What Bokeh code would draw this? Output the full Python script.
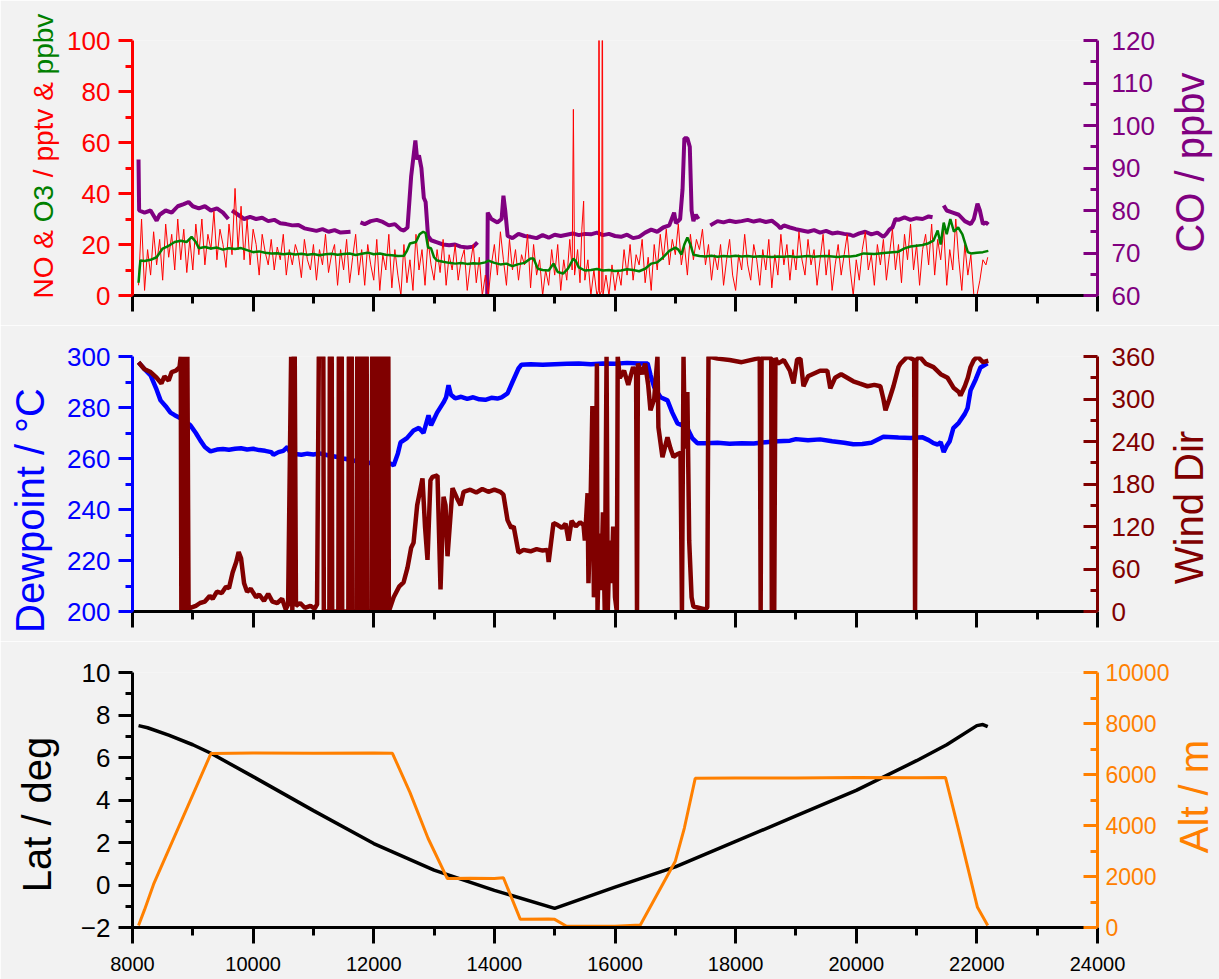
import math
import numpy as np
from bokeh.plotting import figure
from bokeh.models import (Range1d, LinearAxis, FixedTicker, Label, CustomLabelingPolicy)
from bokeh.layouts import column
from bokeh.embed import file_html
from bokeh.resources import INLINE

# ---------------- data ----------------
x_major = [8000, 10000, 12000, 14000, 16000, 18000, 20000, 22000, 24000]
x_minor = [9000, 11000, 13000, 15000, 17000, 19000, 21000, 23000]

no_pts = [
(8100,4),(8150,30),(8200,2),(8250,18),(8300,8),(8350,25),(8400,12),(8450,22),(8500,6),(8550,28),(8600,15),(8650,24),
(8700,10),(8750,30),(8800,14),(8850,26),(8900,9),(8950,22),(9000,10),(9050,28),(9100,16),(9150,30),(9200,12),(9250,24),
(9300,18),(9350,33),(9400,14),(9450,26),(9500,20),(9550,11),(9600,28),(9650,16),(9700,42),(9750,18),(9800,35),(9850,14),
(9900,30),(9950,12),(10000,26),(10050,20),(10100,8),(10150,24),(10200,17),(10250,12),(10300,22),(10350,10),(10400,19),
(10450,14),(10500,24),(10550,8),(10600,18),(10650,12),(10700,20),(10750,16),(10800,7),(10850,22),(10900,14),(10950,10),
(11000,20),(11050,6),(11100,18),(11150,12),(11200,24),(11250,9),(11300,16),(11350,20),(11400,4),(11450,18),(11500,10),
(11550,22),(11600,5),(11650,15),(11700,24),(11750,8),(11800,18),(11850,4),(11900,20),(11950,12),(12000,6),(12050,22),
(12100,2),(12150,16),(12200,10),(12250,24),(12300,3),(12350,18),(12400,8),(12450,0),(12500,20),(12550,5),(12600,14),
(12650,2),(12700,24),(12750,10),(12800,18),(12850,4),(12900,22),(12950,12),(13000,6),(13050,18),(13100,9),(13150,22),
(13200,4),(13250,16),(13300,10),(13350,20),(13400,6),(13450,14),(13500,18),(13550,2),(13600,12),(13650,20),(13700,5),
(13750,15),(13800,0),(13850,8),(13900,0),(13950,12),(14000,20),(14050,8),(14100,25),(14150,14),(14200,4),(14250,22),
(14300,10),(14350,18),(14400,6),(14450,16),(14500,12),(14550,24),(14600,3),(14650,20),(14700,8),(14750,14),(14800,0),
(14850,10),(14900,4),(14950,18),(15000,8),(15050,20),(15100,2),(15150,14),(15200,6),(15250,22),(15290,10),(15310,73),
(15330,8),(15380,18),(15420,5),(15450,26),(15480,37),(15500,6),(15550,14),(15600,0),(15650,10),(15700,0),(15725,2),
(15735,150),(15745,0),(15780,2),(15790,150),(15800,0),(15850,8),(15900,0),(15950,12),(16000,2),(16050,10),(16100,4),
(16150,18),(16200,8),(16250,20),(16300,6),(16350,16),(16400,12),(16450,22),(16500,5),(16550,15),(16600,2),(16650,20),
(16700,10),(16750,24),(16800,14),(16850,26),(16900,12),(16950,22),(17000,16),(17050,28),(17100,12),(17150,20),(17200,8),
(17250,24),(17300,14),(17350,22),(17400,18),(17450,26),(17500,12),(17550,20),(17600,6),(17650,16),(17700,10),(17750,20),
(17800,4),(17850,14),(17900,22),(17950,8),(18000,2),(18050,16),(18100,10),(18150,24),(18200,12),(18250,6),(18300,20),
(18350,14),(18400,4),(18450,18),(18500,10),(18550,22),(18600,3),(18650,16),(18700,8),(18750,24),(18800,12),(18850,20),
(18900,6),(18950,18),(19000,10),(19050,25),(19100,14),(19150,8),(19200,22),(19250,12),(19300,18),(19350,4),(19400,14),
(19450,24),(19500,8),(19550,18),(19600,2),(19650,12),(19700,20),(19750,8),(19800,16),(19850,24),(19900,10),(19950,0),
(20000,14),(20050,6),(20100,18),(20150,25),(20200,10),(20250,16),(20300,4),(20350,20),(20400,12),(20450,22),(20500,6),
(20550,16),(20600,26),(20650,10),(20700,20),(20750,5),(20800,24),(20850,14),(20900,28),(20950,10),(21000,20),(21050,4),
(21100,18),(21150,24),(21200,12),(21250,28),(21300,8),(21350,22),(21400,14),(21450,26),(21500,4),(21550,18),(21600,10),
(21650,30),(21700,14),(21750,2),(21800,20),(21850,8),(21900,16),(21950,0),(22000,0),(22050,6),(22100,14),(22150,12),(22180,15)]

o3_pts = [
(8100,5),(8130,13.7),(8200,13.5),(8300,14),(8400,15),(8500,18.4),(8600,19.5),(8700,21),(8800,21.5),(8900,21),(8980,23),
(9050,21),(9100,18.5),(9200,19),(9300,18.4),(9400,18.8),(9500,18),(9600,18.5),(9700,18.2),(9800,18.6),(9900,17.8),
(10000,17),(10100,17.3),(10200,16.8),(10300,16.5),(10400,16.6),(10500,16.2),(10600,16.5),(10700,16.1),(10800,16.4),
(10900,16),(11000,16.3),(11100,15.8),(11200,16.2),(11300,16.4),(11400,16),(11500,16.3),(11600,16.5),(11700,15.9),
(11800,16.4),(11900,16.8),(12000,16.2),(12100,16.5),(12200,16),(12300,15.8),(12400,15.5),(12500,15.6),(12550,17.5),
(12600,20.4),(12700,21),(12760,24),(12820,25),(12860,24.5),(12900,18.8),(12950,18.5),(13000,15),(13050,13.7),
(13150,13.2),(13250,12.8),(13350,12.5),(13450,12.7),(13550,12.4),(13650,12.6),(13750,12.5),(13850,13),(13900,13.7),
(14000,12.8),(14100,12.2),(14200,12.5),(14300,11.5),(14400,12.3),(14500,12.8),(14600,14.5),(14650,14.5),(14720,10.5),
(14800,10),(14900,9.8),(14980,12.5),(15050,9.2),(15140,8.6),(15220,10.5),(15310,14.5),(15350,13.5),(15400,11),
(15500,9.8),(15600,10),(15700,10.4),(15800,9.8),(15900,10),(16000,9.6),(16100,9.8),(16200,10.3),(16300,10),(16400,9.5),
(16500,10.5),(16600,12.5),(16700,13),(16800,15),(16900,17.5),(17000,18.8),(17050,18),(17100,16),(17150,20),(17200,22.7),
(17250,20),(17300,16),(17400,15.5),(17500,15.3),(17600,15.6),(17700,15.2),(17800,15.5),(17900,15.3),(18000,15.6),
(18100,15.3),(18200,15.5),(18300,15.2),(18400,15.4),(18500,15.3),(18600,15.1),(18700,15.3),(18800,15.2),(18900,15.4),
(19000,15.1),(19100,15.3),(19200,15.5),(19300,15.2),(19400,15.4),(19500,15.5),(19600,15.3),(19700,15.1),(19800,15.4),
(19900,15.3),(20000,15.6),(20120,16.5),(20300,16.3),(20500,16.8),(20700,17.2),(20800,18.5),(20900,19.2),(21000,19.5),
(21100,19.8),(21200,20.5),(21280,21.5),(21350,25.5),(21400,20),(21450,28.6),(21500,24),(21560,30),(21620,25),
(21690,26.7),(21760,24),(21850,17),(21900,16.5),(22000,16.8),(22100,17),(22190,17.5)]

nan = float("nan")
co_pts = [
(8100,92),(8110,80),(8200,79.5),(8300,80),(8400,77.6),(8450,79),(8550,80),(8650,79.5),(8750,81),(8850,81.5),(8930,82),
(9000,81),(9100,80.5),(9200,81),(9300,80),(9400,80.5),(9500,79.5),(9590,78),(9620,nan),(9650,80),(9750,79),(9850,78),
(9950,78.5),(10050,78),(10150,78.3),(10250,77.5),(10350,77.8),(10450,77),(10550,76.8),(10650,76.5),(10750,76.6),
(10850,75.8),(10950,75.5),(11050,75.2),(11150,75.6),(11250,75),(11350,75.4),(11450,74.8),(11615,75),(11700,nan),
(11780,77.2),(11850,76.8),(11950,77.5),(12050,77.8),(12150,77.3),(12250,76.5),(12350,76.8),(12450,75.5),(12500,75.3),
(12560,76),(12620,88),(12690,96.5),(12720,92),(12750,93),(12790,90),(12830,83),(12860,82),(12900,74),(12950,73),
(13050,72.5),(13150,72),(13250,71.8),(13350,72),(13440,71.5),(13550,71.3),(13650,71.5),(13720,72.5),(13800,nan),
(13880,58),(13890,79.5),(13950,78),(14050,77.2),(14120,78),(14150,83.5),(14180,80),(14220,74),(14300,73.5),(14400,74.5),
(14500,74),(14600,73.8),(14700,73.5),(14800,74.2),(14900,73.6),(15000,74.3),(15100,74),(15200,74.3),(15300,74.6),
(15400,74.2),(15500,74.5),(15600,74.4),(15700,74.8),(15800,74.2),(15900,74.5),(16000,74),(16100,73.8),(16200,74.3),
(16300,73.5),(16400,73.8),(16500,74.8),(16600,75.5),(16700,75),(16800,76),(16900,76.5),(16980,79.5),(17010,77),
(17080,78),(17120,85),(17150,97),(17200,97),(17240,95),(17270,80),(17300,77.5),(17340,79),(17385,78),(17480,nan),
(17580,76.5),(17700,77.5),(17800,77.2),(17900,77.6),(18000,77.3),(18100,77.5),(18200,77.8),(18300,77.4),(18400,77.7),
(18500,77.3),(18600,77.6),(18700,76.5),(18745,75.8),(18800,76.5),(18900,76),(19000,75.6),(19100,75.3),(19200,75),
(19300,75.4),(19400,74.8),(19500,75.2),(19600,74.6),(19700,74.8),(19800,74.5),(19900,74.3),(19950,74),(20050,74.6),
(20150,75),(20250,74.4),(20350,74.8),(20450,73.8),(20500,74.5),(20550,75.5),(20600,76),(20650,78),(20700,77.8),
(20800,78.4),(20900,77.8),(21000,78.2),(21100,78),(21200,78.6),(21265,78.4),(21350,nan),(21450,81.2),(21500,80),
(21600,79.5),(21700,79),(21800,77.5),(21900,76.8),(21950,78),(22010,81.6),(22050,80),(22100,76.8),(22150,77.2),(22190,76.7)]

dew_pts = [
(8100,297.7),(8200,295),(8300,292.6),(8400,287),(8465,282.8),(8550,280.5),(8630,278),(8700,277),(8796,275.8),(8880,274.5),
(8960,273),(9050,270),(9127,267),(9200,264.5),(9293,262.8),(9400,263.5),(9500,263.7),(9600,263.4),(9700,263.8),
(9800,264),(9900,263.5),(10000,263.8),(10100,263.3),(10200,263),(10300,262.5),(10338,261.5),(10420,262.5),(10500,263),
(10570,264.5),(10620,262),(10700,261.8),(10800,261.5),(10900,261.9),(11000,261.6),(11100,262),(11200,261.5),(11300,261),
(11400,260.6),(11500,260),(11600,259.5),(11700,259),(11830,258),(11950,258.3),(12100,257.9),(12200,258.2),(12278,258),
(12330,257.3),(12400,262),(12444,266.3),(12550,268),(12660,271),(12750,272),(12825,270),(12908,276.9),(12950,273),
(13050,278),(13157,282),(13200,284),(13240,288.7),(13280,285),(13350,283.6),(13450,284.2),(13550,283.4),(13650,284),
(13750,283.2),(13850,283),(13950,283.8),(14050,283.5),(14120,284),(14218,285.5),(14300,290),(14400,295.3),(14450,296.8),
(14600,297),(14800,296.8),(15000,297),(15200,297.2),(15400,297.3),(15600,297),(15800,297.3),(16000,297.2),(16200,297.5),
(16400,297.3),(16540,297.3),(16590,292.6),(16650,288),(16755,284),(16870,282.8),(16950,278),(17035,273.8),(17120,273),
(17200,271.9),(17280,268),(17365,266),(17500,266),(17700,266.2),(17900,265.8),(18100,266),(18300,265.9),(18500,266.4),
(18700,266.8),(18900,267),(19000,267.6),(19200,267.2),(19400,267.5),(19600,266.8),(19800,266.2),(19950,265.6),
(20100,265.7),(20250,266.2),(20450,268.5),(20700,268.2),(20900,268),(21100,268.3),(21200,267.2),(21280,266),
(21350,265.5),(21400,266.4),(21450,262.5),(21500,265),(21550,266.8),(21610,271.9),(21700,274),(21800,277.5),
(21845,279.7),(21895,286.7),(21980,291),(22060,295.7),(22176,297.3)]

wind_pts = [
(8100,352),(8200,342),(8300,338),(8400,330),(8480,322),(8530,332),(8600,326),(8650,338),(8720,340),(8780,345),
(8800,360),(8810,0),(8830,360),(8850,0),(8870,360),(8890,0),(8910,360),(8930,0),(8960,5),(9050,8),(9120,12),(9200,14),
(9280,22),(9330,18),(9400,28),(9480,26),(9550,35),(9600,33),(9660,55),(9720,70),(9760,84),(9800,75),(9850,40),(9900,28),
(9960,32),(10050,20),(10100,24),(10180,15),(10250,25),(10320,14),(10400,12),(10480,18),(10540,3),(10580,10),(10630,360),
(10650,0),(10670,360),(10690,360),(10710,8),(10780,12),(10860,5),(10950,8),(11020,4),(11060,10),
(11089,360),(11164,360),(11172,0),(11264,0),(11272,360),(11303,360),(11311,0),(11413,0),(11421,360),(11469,360),
(11477,0),(11579,0),(11587,360),(11635,360),(11643,0),(11718,0),(11726,360),(11772,360),(11780,0),(11828,0),
(11836,360),(11883,360),(11891,0),(11966,0),(11974,360),(12021,360),(12029,0),(12076,0),(12084,360),(12132,360),
(12140,0),(12187,0),(12195,360),(12242,360),(12250,0),(12330,20),(12420,35),(12494,41),(12560,62),
(12620,90),(12660,97),(12720,150),(12808,188),(12850,120),(12891,73),(12940,185),(12974,190),(13057,192),(13107,31),
(13157,162),(13190,150),(13223,78),(13306,174),(13380,160),(13440,150),(13490,169),(13600,172),(13700,168),(13800,173),
(13900,169),(14000,172),(14100,169),(14150,165),(14218,129),(14280,118),(14320,120),(14400,83),(14483,87),(14600,85),
(14700,88),(14800,86),(14880,87),(14900,70),(14980,125),(15050,122),(15120,118),(15180,124),(15230,100),(15280,128),
(15350,120),(15420,126),(15478,122),(15500,100),(15545,167),(15560,40),(15590,130),(15625,290),(15650,20),(15680,120),
(15700,350),(15710,0),(15740,110),(15770,30),(15800,140),(15830,0),(15860,360),(15880,0),(15910,100),(15940,40),
(15970,120),(16000,20),(16030,0),(16045,360),(16080,330),(16150,340),(16220,320),(16300,345),(16350,335),(16365,0),
(16380,350),(16450,335),(16500,350),(16550,320),(16588,284),(16650,300),(16704,360),(16720,260),(16787,218),
(16870,246),(16920,230),(16970,218),(17030,222),(17086,224),(17110,0),(17136,360),(17160,230),(17200,310),(17230,100),
(17270,20),(17300,7),(17400,5),(17500,3),(17530,6),(17550,360),(17700,357),(17900,355),(18100,352),(18300,356),
(18400,358),(18415,0),(18430,358),(18590,358),(18600,0),(18615,358),(18640,0),(18660,358),(18700,350),(18800,355),
(18900,340),(18960,322),(19020,356),(19075,357),(19125,318),(19200,332),(19300,336),(19400,340),(19520,340),(19570,315),
(19650,330),(19750,335),(19850,330),(19950,325),(20050,322),(20186,318),(20300,320),(20400,318),(20450,300),(20485,284),
(20550,300),(20617,318),(20700,345),(20733,350),(20850,360),(20960,355),(20975,0),(20995,355),(21050,360),(21150,350),
(21281,345),(21400,335),(21513,330),(21612,316),(21700,310),(21728,305),(21800,318),(21850,330),(21894,345),(21950,355),
(22010,360),(22100,352),(22190,354)]

lat_pts = [
(8100,7.5),(8250,7.4),(8600,7.05),(9000,6.6),(9300,6.2),(10000,5.1),(11000,3.5),(12000,1.95),(13000,0.7),(14000,-0.25),
(15000,-1.1),(16000,-0.1),(17000,0.85),(18000,2.05),(19000,3.25),(20000,4.45),(21000,5.85),(21500,6.6),(22000,7.5),
(22100,7.55),(22180,7.45)]

alt_pts = [
(8100,80),(8200,700),(8350,1700),(9300,6820),(10000,6840),(11000,6830),(12000,6840),(12310,6830),(12600,5300),
(12900,3500),(13220,1920),(13600,1930),(14000,1920),(14150,1950),(14430,320),(14900,330),(15000,320),(15190,60),
(16000,50),(16420,100),(17000,2600),(17150,3900),(17330,5850),(18000,5860),(19000,5860),(20000,5880),(21000,5870),
(21480,5880),(21700,3800),(22010,790),(22180,80)]

# ---------------- styling helpers ----------------
BG = "#f2f2f2"
FONT = "Liberation Sans"
FRAME_W = 965.0

x_range = Range1d(8000, 24000)
HIDE_ALL = "for (const i of indices) { indices.unset(i) }\nreturn indices"


def unzip(pts):
    return (np.array([p[0] for p in pts], dtype=float), np.array([p[1] for p in pts], dtype=float))


def px_to_x(px):
    # page pixel -> x data (frame spans 132..1097 px)
    return 8000 + (px - 132) * 16000 / FRAME_W


def style_yaxis(ax, color, side, major, minor, size="26px", standoff=None):
    ax.ticker = FixedTicker(ticks=major, minor_ticks=minor)
    ax.axis_line_color = color
    ax.axis_line_width = 3
    ax.major_tick_line_color = color
    ax.minor_tick_line_color = color
    ax.major_tick_line_width = 3
    ax.minor_tick_line_width = 3
    ax.major_label_text_color = color
    ax.major_label_text_font = FONT
    ax.major_label_text_font_size = size
    if side == "left":
        ax.major_tick_out, ax.major_tick_in = 14, 0
        ax.minor_tick_out, ax.minor_tick_in = 7, 0
        ax.major_label_standoff = 8 if standoff is None else standoff
    else:
        ax.major_tick_out, ax.major_tick_in = 0, 14
        ax.minor_tick_out, ax.minor_tick_in = 0, 7
        ax.major_label_standoff = 14 if standoff is None else standoff


def make_fig(height, top, bottom, y0, y1, show_xlabels):
    p = figure(width=1219, height=height, x_range=x_range, y_range=Range1d(y0, y1),
               output_backend="svg", toolbar_location=None,
               min_border_left=132, min_border_right=122,
               min_border_top=top, min_border_bottom=bottom,
               background_fill_color=BG, border_fill_color=BG, outline_line_color=None)
    p.xgrid.visible = False
    p.ygrid.visible = False
    xa = p.xaxis[0]
    xa.ticker = FixedTicker(ticks=x_major, minor_ticks=x_minor)
    xa.axis_line_color = "black"
    xa.axis_line_width = 3
    xa.major_tick_line_color = "black"
    xa.minor_tick_line_color = "black"
    xa.major_tick_line_width = 3
    xa.minor_tick_line_width = 3
    xa.major_tick_out, xa.major_tick_in = 16, 0
    xa.minor_tick_out, xa.minor_tick_in = 8, 0
    xa.major_label_text_font = FONT
    xa.major_label_text_color = "black"
    if show_xlabels:
        xa.major_label_text_font_size = "20px"
        xa.major_label_standoff = 13
    else:
        xa.major_label_text_font_size = "1px"
        xa.major_label_standoff = 0
        xa.major_label_policy = CustomLabelingPolicy(code=HIDE_ALL)
    return p


def title(p, side, text, base_px, y, color, fs=40, align="center"):
    # base_px: page x of the text baseline; Bokeh anchors rotated text at the box middle
    x = px_to_x(base_px - 0.33 * fs)
    p.add_layout(Label(x=x, y=y, text=text,
                       angle=math.pi / 2, text_align=align, text_baseline="middle",
                       text_font=FONT, text_font_size=f"{fs}px", text_color=color), side)


# ---------------- panel 1: NO, O3, CO ----------------
RED, GREEN, PURPLE = "#ff0000", "#008000", "#800080"
p1 = make_fig(325, 40, 30, 0, 100, False)
p1.extra_y_ranges = {"co": Range1d(60, 120)}
style_yaxis(p1.yaxis[0], RED, "left", [0, 20, 40, 60, 80, 100], [10, 30, 50, 70, 90])
ax_co = LinearAxis(y_range_name="co")
style_yaxis(ax_co, PURPLE, "right", [60, 70, 80, 90, 100, 110, 120], [65, 75, 85, 95, 105, 115])
p1.add_layout(ax_co, "right")

cx, cy = unzip(co_pts)
p1.line(cx, cy, y_range_name="co", line_color=PURPLE, line_width=4)
nx, ny = unzip(no_pts)
p1.line(nx, ny, line_color=RED, line_width=1)
ox, oy = unzip(o3_pts)
p1.line(ox, oy, line_color=GREEN, line_width=2.5)

# two-coloured left title "NO & O3 / pptv & ppbv":
# red runs with a same-width blank (en space + space + figure space) where "O3" goes,
# green runs placed by their em offsets along the text
fs = 28
PX_PER_UNIT_1 = 255 / 100.0
y_start = 295 - 298  # px above frame bottom where the text starts
title(p1, "left", "NO & \u2002 \u2007 / pptv &", 52, y_start / PX_PER_UNIT_1, RED, fs=fs, align="left")
title(p1, "above", "O3", 52, (y_start + 2.723 * fs) / PX_PER_UNIT_1, GREEN, fs=fs, align="left")
title(p1, "left", "ppbv", 52, (y_start + 8.004 * fs) / PX_PER_UNIT_1, GREEN, fs=fs, align="left")
title(p1, "right", "CO / ppbv", 1203, (295 - 162) / PX_PER_UNIT_1, PURPLE)

# ---------------- panel 2: Dewpoint, Wind dir ----------------
BLUE, MAROON = "#0000ff", "#800000"
p2 = make_fig(316, 31, 30, 200, 300, False)
p2.extra_y_ranges = {"wd": Range1d(0, 360)}
style_yaxis(p2.yaxis[0], BLUE, "left", [200, 220, 240, 260, 280, 300], [210, 230, 250, 270, 290])
ax_wd = LinearAxis(y_range_name="wd")
style_yaxis(ax_wd, MAROON, "right", [0, 60, 120, 180, 240, 300, 360], [30, 90, 150, 210, 270, 330])
p2.add_layout(ax_wd, "right")

dx, dy = unzip(dew_pts)
p2.line(dx, dy, line_color=BLUE, line_width=4.5)
wx, wy = unzip(wind_pts)
p2.line(wx, wy, y_range_name="wd", line_color=MAROON, line_width=4.5)

title(p2, "left", "Dewpoint / °C", 43, 200 + (611 - 510) / 2.55, BLUE)
title(p2, "right", "Wind Dir", 1202, 200 + (611 - 507) / 2.55, MAROON)

# ---------------- panel 3: Lat, Alt ----------------
ORANGE = "#ff8000"
p3 = make_fig(338, 31, 52, -2, 10, True)
p3.extra_y_ranges = {"alt": Range1d(0, 10000)}
style_yaxis(p3.yaxis[0], "black", "left", [-2, 0, 2, 4, 6, 8, 10], [-1, 1, 3, 5, 7, 9])
ax_alt = LinearAxis(y_range_name="alt")
style_yaxis(ax_alt, ORANGE, "right", [0, 2000, 4000, 6000, 8000, 10000], [1000, 3000, 5000, 7000, 9000],
            size="23px", standoff=8)
p3.add_layout(ax_alt, "right")

lx, ly = unzip(lat_pts)
p3.line(lx, ly, line_color="black", line_width=3.5)
ax_, ay_ = unzip(alt_pts)
p3.line(ax_, ay_, y_range_name="alt", line_color=ORANGE, line_width=3)

title(p3, "left", "Lat / deg", 50, -2 + (927 - 814) / 21.25, "black")
title(p3, "right", "Alt / m", 1207, -2 + (927 - 796) / 21.25, ORANGE)

layout = column(p1, p2, p3, spacing=0)
open("out.html", "w").write(file_html(layout, INLINE))
